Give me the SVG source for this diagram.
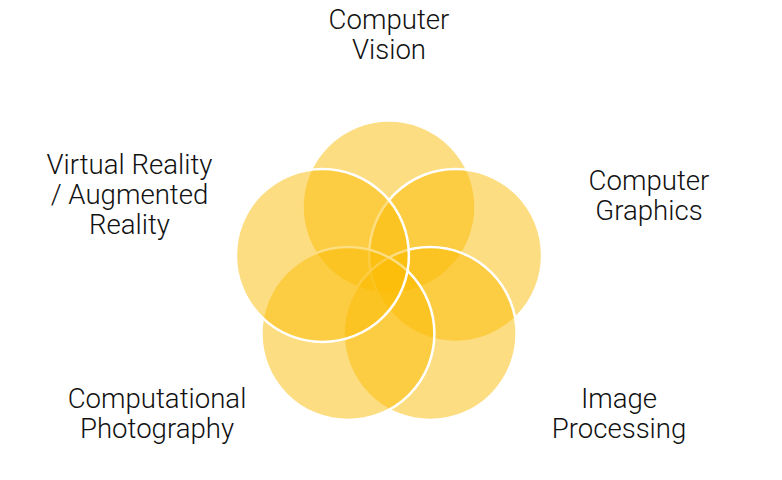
<svg xmlns="http://www.w3.org/2000/svg" width="782" height="480" viewBox="0 0 782 480">
<style>
.c{fill:#FBBC04;fill-opacity:0.5;stroke:#fff;stroke-width:2.5}
.t{font-family:Roboto,"Liberation Sans",sans-serif;font-weight:300;font-size:27.6px;fill:#111;text-anchor:middle}
</style>
<rect width="782" height="480" fill="#fff"/>
<g id="circles">
<circle id="c-cv" class="c" cx="389" cy="207" r="86.5"/>
<circle id="c-cg" class="c" cx="455.6" cy="255.4" r="86.5"/>
<circle id="c-ip" class="c" cx="430.1" cy="333.6" r="86.5"/>
<circle id="c-cp" class="c" cx="347.9" cy="333.6" r="86.5"/>
<circle id="c-vr" class="c" cx="322.4" cy="255.4" r="86.5"/>
</g>
<g id="label-cv"><text class="t" x="389" y="29">Computer</text><text class="t" x="389" y="59">Vision</text></g>
<g id="label-cg"><text class="t" x="649" y="190">Computer</text><text class="t" x="649" y="220">Graphics</text></g>
<g id="label-ip"><text class="t" x="619" y="408">Image</text><text class="t" x="619" y="438">Processing</text></g>
<g id="label-cp"><text class="t" x="157" y="408">Computational</text><text class="t" x="157" y="438">Photography</text></g>
<g id="label-vr"><text class="t" x="129.5" y="174">Virtual Reality</text><text class="t" x="129.5" y="204">/ Augmented</text><text class="t" x="129.5" y="234">Reality</text></g>
</svg>
